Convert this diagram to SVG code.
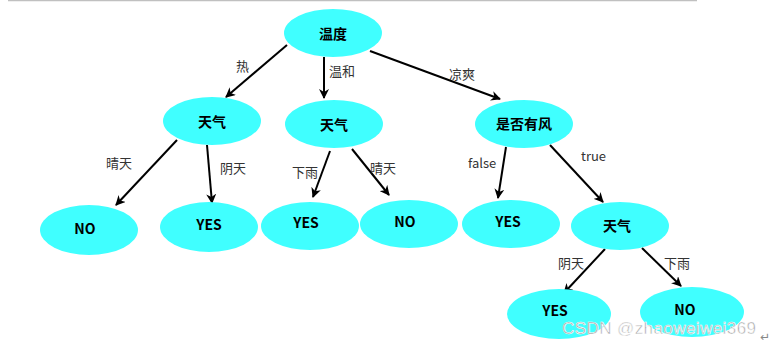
<svg xmlns="http://www.w3.org/2000/svg" width="775" height="345" viewBox="0 0 775 345">
<style>
.n ellipse{fill:#40FFFF;stroke:none}
.n text{font-family:"Noto Sans CJK SC","Liberation Sans",sans-serif;font-size:14px;font-weight:bold;fill:#000;text-anchor:middle;dominant-baseline:central}
.e line{stroke:#000;stroke-width:2;marker-end:url(#a)}
.lb{font-family:"Noto Sans CJK SC","Liberation Sans",sans-serif;font-size:13px;fill:#333}
</style>
<defs>
<marker id="a" markerWidth="10" markerHeight="10" refX="9" refY="5" orient="auto" markerUnits="userSpaceOnUse">
<path d="M0,0 L10,5 L0,10 L3,5 Z" fill="#000"/>
</marker>
</defs>
<rect width="775" height="345" fill="#fff"/>
<line x1="8" y1="0.5" x2="697" y2="0.5" stroke="#c0c0c0" stroke-width="1.5"/>
<g id="edges" class="e">
<line x1="287" y1="45" x2="226" y2="97"/>
<line x1="324" y1="57" x2="324" y2="98"/>
<line x1="370" y1="51" x2="500" y2="99"/>
<line x1="177" y1="140" x2="116" y2="205"/>
<line x1="207" y1="145" x2="212" y2="203"/>
<line x1="330" y1="151" x2="313" y2="197"/>
<line x1="352" y1="149" x2="389" y2="195"/>
<line x1="506" y1="147" x2="498" y2="198"/>
<line x1="550" y1="145" x2="603" y2="202"/>
<line x1="605" y1="249" x2="564" y2="293"/>
<line x1="642" y1="248" x2="681" y2="286"/>
</g>
<g id="edge-labels" class="lb">
<text x="236" y="71">热</text>
<text x="329" y="76">温和</text>
<text x="449" y="79">凉爽</text>
<text x="106" y="168">晴天</text>
<text x="220" y="173">阴天</text>
<text x="292" y="177">下雨</text>
<text x="370" y="173">晴天</text>
<text x="468" y="168">false</text>
<text x="581" y="161">true</text>
<text x="558" y="268">阴天</text>
<text x="664" y="268">下雨</text>
</g>
<g id="n_wendu" class="n"><ellipse cx="333" cy="33" rx="49" ry="24"/><text x="333" y="33">温度</text></g>
<g id="n_tianqi1" class="n"><ellipse cx="212" cy="121" rx="49" ry="24"/><text x="212" y="121">天气</text></g>
<g id="n_tianqi2" class="n"><ellipse cx="334" cy="124" rx="49" ry="24"/><text x="334" y="124">天气</text></g>
<g id="n_feng" class="n"><ellipse cx="524" cy="124" rx="49" ry="24"/><text x="524" y="123">是否有风</text></g>
<g id="n_no1" class="n"><ellipse cx="89" cy="230" rx="49" ry="25"/><text x="85" y="228">NO</text></g>
<g id="n_yes1" class="n"><ellipse cx="209" cy="227" rx="49" ry="25"/><text x="209" y="224">YES</text></g>
<g id="n_yes2" class="n"><ellipse cx="310" cy="226" rx="49" ry="24"/><text x="306" y="222">YES</text></g>
<g id="n_no2" class="n"><ellipse cx="409" cy="224" rx="49" ry="24"/><text x="405" y="221">NO</text></g>
<g id="n_yes3" class="n"><ellipse cx="511" cy="224" rx="49" ry="24"/><text x="508" y="221">YES</text></g>
<g id="n_tianqi3" class="n"><ellipse cx="620" cy="226" rx="49" ry="24"/><text x="617" y="225">天气</text></g>
<g id="n_yes4" class="n"><ellipse cx="559" cy="314" rx="52" ry="25"/><text x="555" y="310">YES</text></g>
<g id="n_no3" class="n"><ellipse cx="692" cy="312" rx="52" ry="25"/><text x="685" y="309">NO</text></g>
<text x="562" y="334" font-family="Liberation Sans,sans-serif" font-size="17" textLength="194" fill="#a0a0a0" stroke="#fff" stroke-width="0.6">CSDN @zhaoweiwei369</text>
<text x="760" y="341" font-family="DejaVu Sans,sans-serif" font-size="12" fill="#888">↵</text>
</svg>
